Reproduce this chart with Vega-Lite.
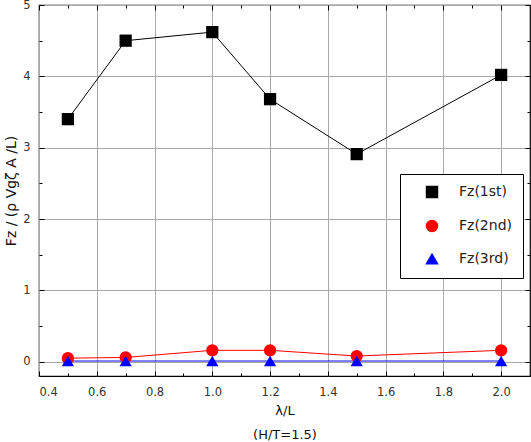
{
  "$schema": "https://vega.github.io/schema/vega-lite/v6.json",
  "autosize": "none",
  "width": 491,
  "height": 371,
  "padding": {"left": 39, "top": 5, "right": 1, "bottom": 66},
  "background": "white",
  "config": {
    "font": "DejaVu Sans",
    "view": {"stroke": "black", "strokeWidth": 1.2},
    "axis": {
      "domain": false,
      "tickColor": "black",
      "tickWidth": 1,
      "gridColor": "#a8a8a8",
      "gridWidth": 1,
      "labelFont": "DejaVu Sans",
      "labelFontSize": 11.5,
      "labelColor": "#333333",
      "titleFont": "DejaVu Sans",
      "titleFontWeight": "normal",
      "titleColor": "#111111"
    }
  },
  "data": {
    "values": [
      {"lam": 0.5, "f": 3.40, "series": "Fz(1st)"},
      {"lam": 0.7, "f": 4.50, "series": "Fz(1st)"},
      {"lam": 1.0, "f": 4.62, "series": "Fz(1st)"},
      {"lam": 1.2, "f": 3.68, "series": "Fz(1st)"},
      {"lam": 1.5, "f": 2.91, "series": "Fz(1st)"},
      {"lam": 2.0, "f": 4.02, "series": "Fz(1st)"},
      {"lam": 0.5, "f": 0.05, "series": "Fz(2nd)"},
      {"lam": 0.7, "f": 0.06, "series": "Fz(2nd)"},
      {"lam": 1.0, "f": 0.16, "series": "Fz(2nd)"},
      {"lam": 1.2, "f": 0.16, "series": "Fz(2nd)"},
      {"lam": 1.5, "f": 0.08, "series": "Fz(2nd)"},
      {"lam": 2.0, "f": 0.16, "series": "Fz(2nd)"},
      {"lam": 0.5, "f": 0.01, "series": "Fz(3rd)"},
      {"lam": 0.7, "f": 0.01, "series": "Fz(3rd)"},
      {"lam": 1.0, "f": 0.01, "series": "Fz(3rd)"},
      {"lam": 1.2, "f": 0.01, "series": "Fz(3rd)"},
      {"lam": 1.5, "f": 0.01, "series": "Fz(3rd)"},
      {"lam": 2.0, "f": 0.01, "series": "Fz(3rd)"}
    ]
  },
  "resolve": {"axis": {"x": "independent", "y": "independent"}},
  "layer": [
    {
      "mark": {"type": "line", "strokeWidth": 1},
      "encoding": {
        "x": {
          "field": "lam", "type": "quantitative",
          "scale": {"domain": [0.4, 2.1], "nice": false, "zero": false},
          "axis": {
            "orient": "bottom",
            "values": [0.4, 0.6, 0.8, 1.0, 1.2, 1.4, 1.6, 1.8, 2.0],
            "format": ".1f",
            "grid": true,
            "tickSize": -5,
            "labelPadding": 15,
            "title": ["λ/L", "(H/T=1.5)"],
            "titleFontSize": 13,
            "titleLineHeight": 24,
            "titlePadding": 7
          }
        },
        "y": {
          "field": "f", "type": "quantitative",
          "scale": {"domain": [-0.2, 5], "nice": false, "zero": false},
          "axis": {
            "orient": "left",
            "values": [0, 1, 2, 3, 4, 5],
            "grid": true,
            "tickSize": -5,
            "labelPadding": 14,
            "title": "Fz / (ρ Vgζ A /L)",
            "titleFontSize": 14,
            "titlePadding": 4
          }
        },
        "color": {
          "field": "series", "type": "nominal",
          "scale": {"domain": ["Fz(1st)", "Fz(2nd)", "Fz(3rd)"], "range": ["#000000", "#ff0000", "#0000ff"]},
          "legend": {
            "title": null,
            "orient": "none",
            "legendX": 361,
            "legendY": 169,
            "padding": 11,
            "fillColor": "white",
            "strokeColor": "black",
            "symbolSize": 120,
            "symbolOffset": 14,
            "labelOffset": 20,
            "labelFont": "DejaVu Sans",
            "labelFontSize": 14,
            "labelColor": "#222222",
            "labelExpr": "datum.label + ' '",
            "rowPadding": 16
          }
        }
      }
    },
    {
      "mark": {"type": "point", "filled": true, "size": 150, "opacity": 1},
      "encoding": {
        "x": {
          "field": "lam", "type": "quantitative",
          "axis": {"orient": "top", "values": [0.4, 0.6, 0.8, 1.0, 1.2, 1.4, 1.6, 1.8, 2.0], "labels": false, "grid": false, "tickSize": -5, "title": null}
        },
        "y": {
          "field": "f", "type": "quantitative",
          "axis": {"orient": "right", "values": [0, 1, 2, 3, 4, 5], "labels": false, "grid": false, "tickSize": -5, "title": null}
        },
        "color": {
          "field": "series", "type": "nominal",
          "scale": {"domain": ["Fz(1st)", "Fz(2nd)", "Fz(3rd)"], "range": ["#000000", "#ff0000", "#0000ff"]}
        },
        "shape": {
          "field": "series", "type": "nominal",
          "scale": {"domain": ["Fz(1st)", "Fz(2nd)", "Fz(3rd)"], "range": ["square", "circle", "triangle-up"]},
          "legend": null
        }
      }
    },
    {
      "mark": {"type": "point", "opacity": 0},
      "encoding": {
        "x": {
          "field": "lam", "type": "quantitative",
          "axis": {"orient": "bottom", "values": [0.5, 0.7, 0.9, 1.1, 1.3, 1.5, 1.7, 1.9], "labels": false, "grid": false, "tickSize": -3, "title": null}
        },
        "y": {
          "field": "f", "type": "quantitative",
          "axis": {"orient": "left", "values": [0.5, 1.5, 2.5, 3.5, 4.5], "labels": false, "grid": false, "tickSize": -3, "title": null}
        }
      }
    },
    {
      "mark": {"type": "point", "opacity": 0},
      "encoding": {
        "x": {
          "field": "lam", "type": "quantitative",
          "axis": {"orient": "top", "values": [0.5, 0.7, 0.9, 1.1, 1.3, 1.5, 1.7, 1.9], "labels": false, "grid": false, "tickSize": -3, "title": null}
        },
        "y": {
          "field": "f", "type": "quantitative",
          "axis": {"orient": "right", "values": [0.5, 1.5, 2.5, 3.5, 4.5], "labels": false, "grid": false, "tickSize": -3, "title": null}
        }
      }
    }
  ]
}
